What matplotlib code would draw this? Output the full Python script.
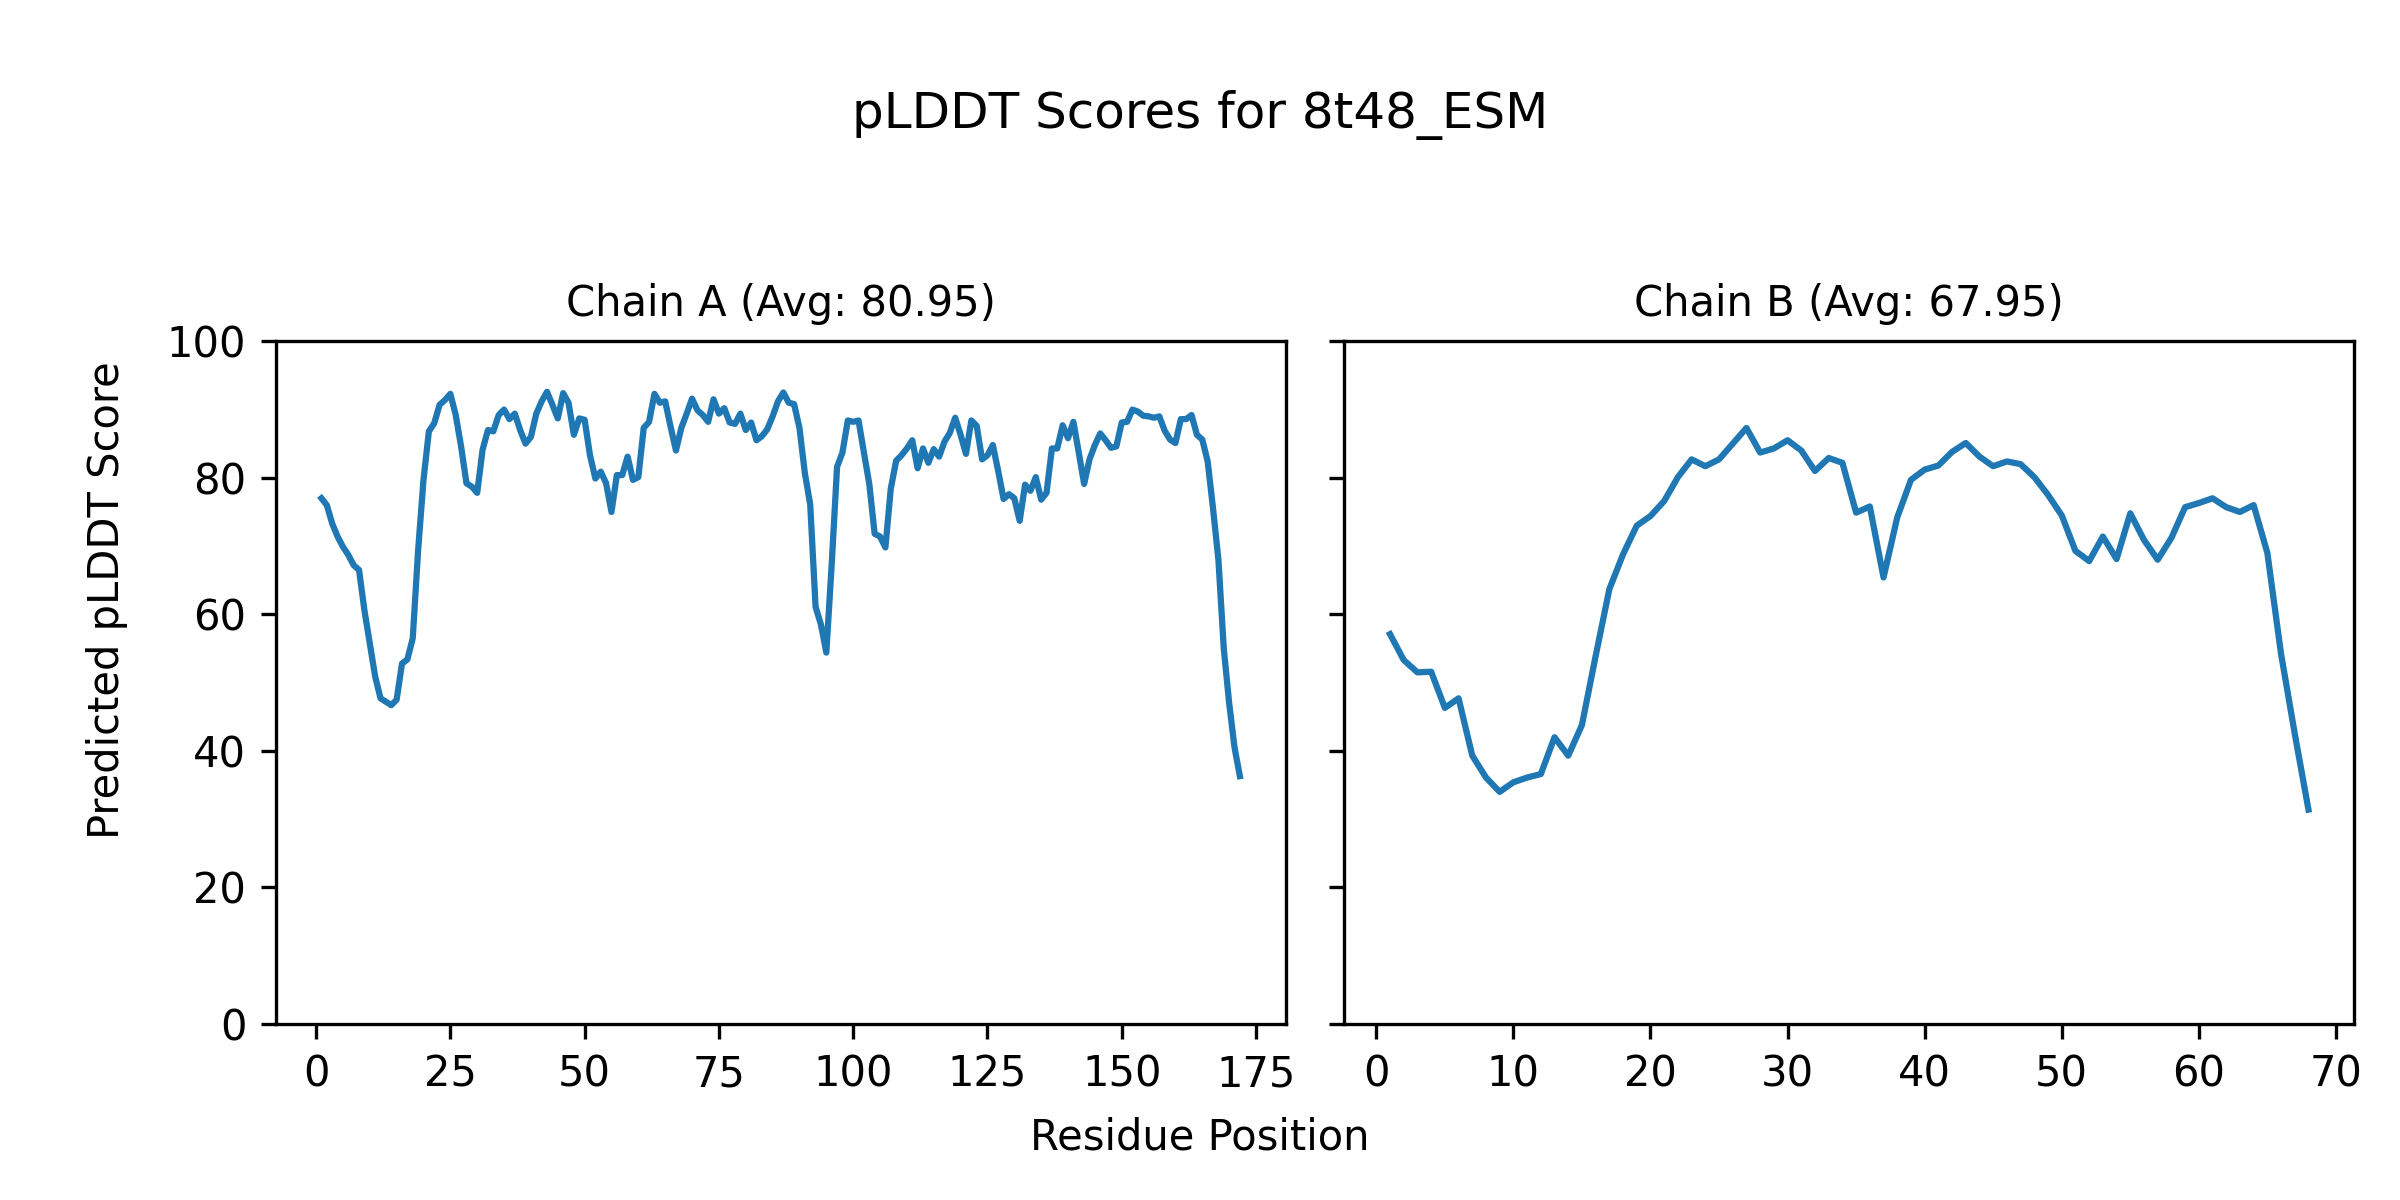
import matplotlib
matplotlib.use("Agg")
import matplotlib.pyplot as plt
import numpy as np

# pLDDT per residue
chain_a_scores = [
    77.0, 76.0, 73.3, 71.4, 69.9, 68.7, 67.2, 66.5, 60.6, 55.8,
    50.9, 47.7, 47.2, 46.7, 47.5, 52.8, 53.4, 56.5, 69.4, 79.7,
    86.8, 88.0, 90.7, 91.4, 92.3, 89.2, 84.6, 79.2, 78.7, 77.8,
    84.1, 87.0, 86.8, 89.2, 90.0, 88.6, 89.4, 87.0, 85.0, 86.0,
    89.4, 91.2, 92.6, 90.7, 88.7, 92.4, 91.0, 86.3, 88.7, 88.5,
    83.3, 79.9, 80.9, 79.2, 75.0, 80.4, 80.4, 83.1, 79.7, 80.1,
    87.3, 88.2, 92.3, 91.0, 91.2, 87.5, 84.0, 87.3, 89.4, 91.6,
    89.9, 89.2, 88.2, 91.5, 89.4, 90.2, 88.1, 87.9, 89.4, 87.0,
    88.1, 85.5, 86.1, 87.1, 89.0, 91.2, 92.5, 91.0, 90.8, 87.3,
    80.7, 76.1, 61.1, 58.5, 54.4, 67.3, 81.6, 83.7, 88.4, 88.2,
    88.4, 83.7, 79.1, 71.8, 71.4, 69.8, 78.4, 82.5, 83.3, 84.3,
    85.5, 81.4, 84.3, 82.2, 84.2, 83.1, 85.3, 86.6, 88.8, 86.3,
    83.5, 88.4, 87.6, 82.7, 83.3, 84.8, 81.0, 76.9, 77.6, 77.0,
    73.7, 79.0, 78.1, 80.1, 76.8, 77.8, 84.3, 84.3, 87.7, 85.8,
    88.2, 83.7, 79.1, 82.7, 84.8, 86.5, 85.5, 84.4, 84.6, 88.1,
    88.2, 90.0, 89.7, 89.1, 89.0, 88.8, 89.0, 86.9, 85.6, 85.1,
    88.6, 88.6, 89.2, 86.3, 85.6, 82.4, 75.5, 68.0, 55.0, 47.0,
    40.5, 36.3,
]

chain_b_scores = [
    57.1, 53.3, 51.5, 51.6, 46.3, 47.7, 39.3, 36.1, 34.0, 35.4,
    36.1, 36.6, 42.0, 39.3, 43.8, 53.9, 63.7, 68.8, 73.0, 74.4,
    76.6, 80.1, 82.7, 81.7, 82.7, 85.0, 87.3, 83.7, 84.3, 85.5,
    84.0, 81.0, 82.9, 82.2, 74.9, 75.8, 65.4, 74.2, 79.7, 81.2,
    81.8, 83.8, 85.1, 83.1, 81.7, 82.4, 82.0, 80.1, 77.5, 74.5,
    69.3, 67.8, 71.4, 68.1, 74.8, 70.9, 68.0, 71.2, 75.7, 76.3,
    77.0, 75.7, 75.0, 76.0, 69.0, 54.2, 42.5, 31.4,
]

chain_names = ["A", "B"]
chain_avgs = ["80.95", "67.95"]

fig, axes = plt.subplots(1, 2, sharey=True, figsize=(8, 4))
plt.subplots_adjust(left=0.1148, right=0.981, bottom=0.1467, top=0.7156, wspace=0.0577)

for ax, scores, name, avg in zip(axes, [chain_a_scores, chain_b_scores], chain_names, chain_avgs):
    pos = np.arange(1, len(scores) + 1)
    ax.plot(pos, scores)
    ax.set_title("Chain {0} (Avg: {1})".format(name, avg), fontsize=10)
    ax.set_ylim(0, 100)

fig.supylabel("Predicted pLDDT Score", fontsize=10, x=0.036)
fig.suptitle("pLDDT Scores for 8t48_ESM", fontsize=12, y=0.925)
fig.supxlabel("Residue Position", fontsize=10, y=0.035)

plt.savefig("out.png", dpi=300)
